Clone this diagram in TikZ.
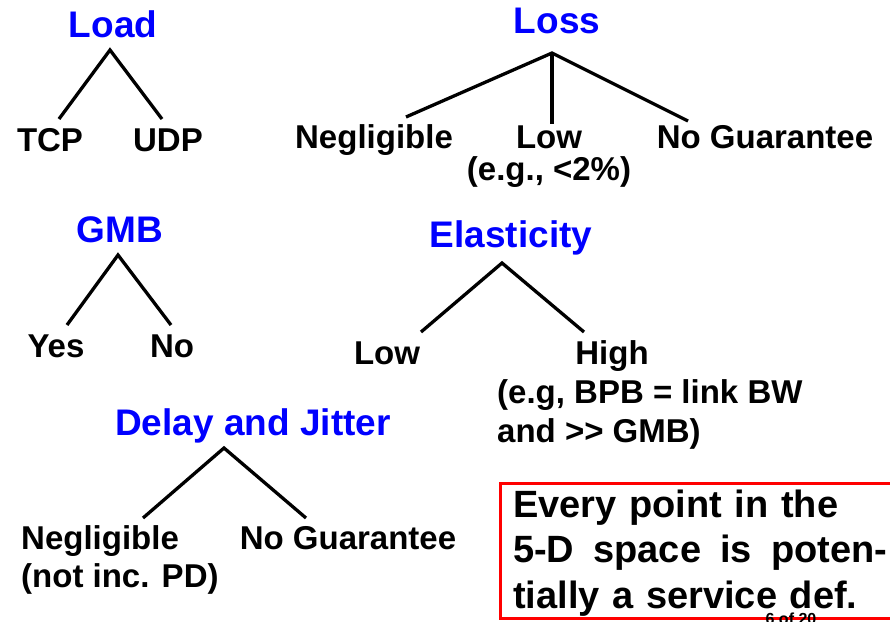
\documentclass[tikz,border=0pt]{standalone}
\usepackage{fontspec}
\setmainfont{Liberation Sans}
\tikzset{
  title/.style={text=blue,font=\fontsize{37}{40}\selectfont\bfseries,anchor=base,inner sep=0pt},
  leaf/.style={font=\fontsize{33}{39}\selectfont\bfseries,anchor=base,inner sep=0pt,align=center},
  branch/.style={line width=3.3pt},
}
\begin{document}
\begin{tikzpicture}[x=1pt,y=-1pt]
\useasboundingbox (0,0) rectangle (890,621);
% Load
\node[title] (load) at (113,37) {Load};
\node[leaf] (tcp) at (50,151) {TCP};
\node[leaf] (udp) at (168,151) {UDP};
\coordinate (loadtop) at (110,50);
\coordinate (tcpend) at (59,119);
\coordinate (udpend) at (162,119);
\draw[branch] (tcpend) -- (loadtop) -- (udpend);
% Loss
\node[title] (loss) at (557,33) {Loss};
\node[leaf] (lossneg) at (374,148) {Negligible};
\node[leaf] (losslow) at (549,180) {Low\\[-7pt](e.g., <2\%)};
\node[leaf] (lossnone) at (765,148) {No Guarantee};
\coordinate (losstop) at (552,53);
\coordinate (lossnegend) at (406,117);
\coordinate (losslowend) at (552,124);
\coordinate (lossnoneend) at (688,121);
\draw[branch] (lossnegend) -- (losstop) -- (lossnoneend);
\draw[branch] (losstop) -- (losslowend);
% GMB
\node[title] (gmb) at (120,242) {GMB};
\node[leaf] (yes) at (56,357) {Yes};
\node[leaf] (no) at (172,357) {No};
\coordinate (gmbtop) at (118,255);
\coordinate (yesend) at (67,325);
\coordinate (noend) at (171,325);
\draw[branch] (yesend) -- (gmbtop) -- (noend);
% Elasticity
\node[title] (elast) at (511,247) {Elasticity};
\node[leaf] (elow) at (387,364) {Low};
\node[leaf] (ehigh) at (612,364) {High};
\node[leaf,anchor=base west,align=left] (ehighnote) at (497,442) {(e.g, BPB = link BW\\and >\kern0pt> GMB)};
\coordinate (elasttop) at (502,263);
\coordinate (elowend) at (421,332);
\coordinate (ehighend) at (584,332);
\draw[branch] (elowend) -- (elasttop) -- (ehighend);
% Delay and Jitter
\node[title] (delay) at (253,435) {Delay and Jitter};
\node[leaf,anchor=base west,align=left] (dneg) at (21,587) {Negligible\\[-1pt](not inc. PD)};
\node[leaf] (dnone) at (348,549) {No Guarantee};
\coordinate (delaytop) at (224,448);
\coordinate (dnegend) at (143,518);
\coordinate (dnoneend) at (306,518);
\draw[branch] (dnegend) -- (delaytop) -- (dnoneend);
% the note
\draw[red,line width=3pt] (500,483) rectangle (895,618);
\node[anchor=base west,text width=374pt,align=left,inner sep=0pt,
      font=\fontsize{38}{45.5}\selectfont\bfseries] (note) at (513,517)
  {Every point in the\\5-D\hfill space\hfill is\hfill poten-\\tially a service def.};
\node[anchor=base,inner sep=0pt,font=\fontsize{16}{18}\selectfont\bfseries] (page) at (791,624.5) {6 of 20};
\end{tikzpicture}
\end{document}
